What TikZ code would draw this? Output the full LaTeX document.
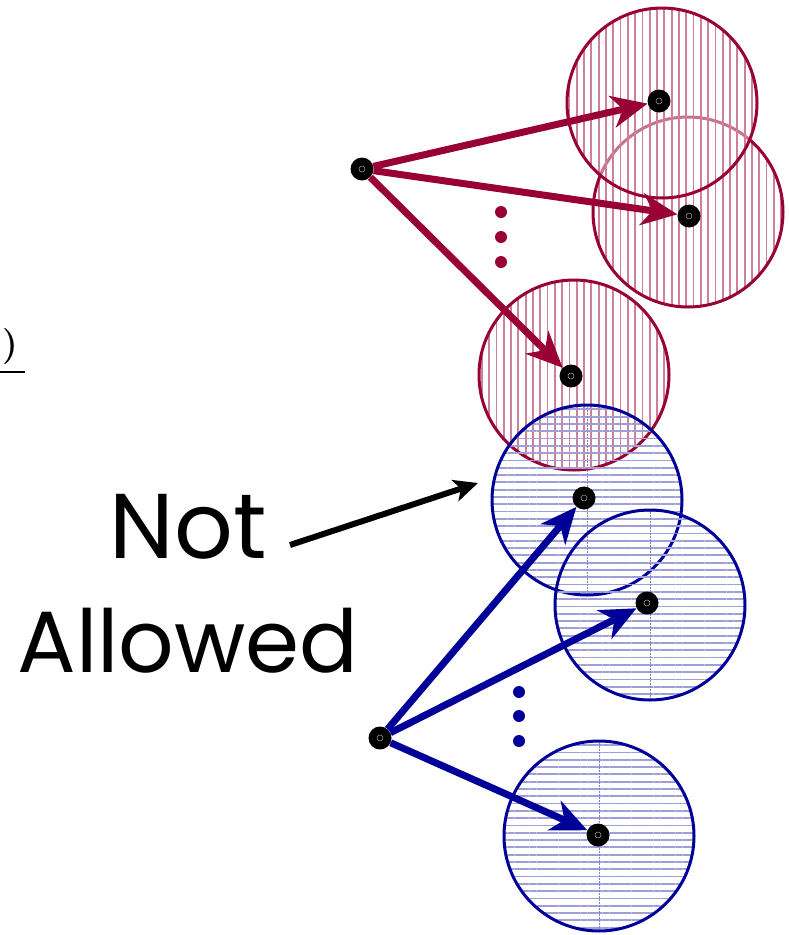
\documentclass[tikz,border=0pt]{standalone}
\usepackage{fontspec}
\newfontfamily\handfont{Poppins}
\usetikzlibrary{arrows.meta,patterns.meta}
\definecolor{wine}{HTML}{990033}
\definecolor{navy}{HTML}{000099}
\begin{document}
\begin{tikzpicture}[x=1pt,y=-1pt,
  pt/.style={circle,fill=black,minimum size=23pt,inner sep=0pt,
    path picture={\draw[gray!70,line width=0.5pt] (path picture bounding box.center) circle (3pt);}},
  dotr/.style={circle,fill=wine,minimum size=12pt,inner sep=0pt},
  dotb/.style={circle,fill=navy,minimum size=12pt,inner sep=0pt},
  redhatch/.style={pattern={Lines[angle=90,distance=7.3pt,line width=1.8pt]},pattern color=wine!50},
  bluehatch/.style={pattern={Lines[angle=0,distance=7.3pt,line width=1.8pt]},pattern color=navy!38},
  redring/.style={draw=wine,line width=3pt},
  bluering/.style={draw=navy,line width=3pt},
  redarrow/.style={wine,line width=7pt,-{Stealth[length=36pt,width=32pt,inset=11pt]}},
  bluearrow/.style={navy,line width=7pt,-{Stealth[length=36pt,width=32pt,inset=11pt]}},
  blackarrow/.style={black,line width=6pt,-{Stealth[length=24pt,width=22pt,inset=6pt]}},
  hand/.style={font=\handfont\fontsize{92}{92}\selectfont,inner sep=0pt}
]
\useasboundingbox (0,0) rectangle (788,935);
% fragment at left edge
\node[font=\bfseries\fontsize{36}{36}\selectfont,inner sep=0pt] (paren) at (10,347) {)};
\draw[line width=2pt] (-5,372) -- (25,372);
% red circles
\path[redhatch] (688,212) circle (95);
\draw[redring] (688,212) circle (95);
\path[fill=white,fill opacity=0.45] (662,103) circle (95);
\path[redhatch] (662,103) circle (95);
\draw[redring] (662,103) circle (95);
\path[redhatch] (574,375) circle (95);
\draw[redring] (574,375) circle (95);
% blue circles
\path[bluehatch] (587,500) circle (95);
\draw[navy!50,densely dotted,line width=0.5pt] (587,405) -- (587,595);
\draw[bluering] (587,500) circle (95);
\path[bluehatch] (650,605) circle (95);
\draw[navy!50,densely dotted,line width=0.5pt] (650,510) -- (650,700);
\draw[bluering] (650,605) circle (95);
\path[bluehatch] (599,836) circle (95);
\draw[navy!50,densely dotted,line width=0.5pt] (599,741) -- (599,931);
\draw[bluering] (599,836) circle (95);
% points
\node[pt] (r0) at (362,169) {};
\node[pt] (r1) at (659,101) {};
\node[pt] (r2) at (689,216) {};
\node[pt] (r3) at (571,376) {};
\node[pt] (b0) at (380,738) {};
\node[pt] (b1) at (584,498) {};
\node[pt] (b2) at (647,603) {};
\node[pt] (b3) at (598,835) {};
% dots
\node[dotr] (rd1) at (501,212) {};
\node[dotr] (rd2) at (501,237) {};
\node[dotr] (rd3) at (501,262) {};
\node[dotb] (bd1) at (519,692) {};
\node[dotb] (bd2) at (519,716) {};
\node[dotb] (bd3) at (519,741) {};
% arrows
\draw[redarrow] (r0) -- (r1);
\draw[redarrow] (r0) -- (r2);
\draw[redarrow] (r0) -- (r3);
\draw[bluearrow] (b0) -- (b1);
\draw[bluearrow] (b0) -- (b2);
\draw[bluearrow] (b0) -- (b3);
% label
\node[hand,anchor=base] (nt) at (188,558) {Not};
\node[hand,anchor=base,font=\handfont\fontsize{87}{87}\selectfont] (al) at (188,672) {Allowed};
\coordinate (na0) at (290,545);
\coordinate (na1) at (478,483);
\draw[blackarrow] (na0) -- (na1);
\end{tikzpicture}
\end{document}
